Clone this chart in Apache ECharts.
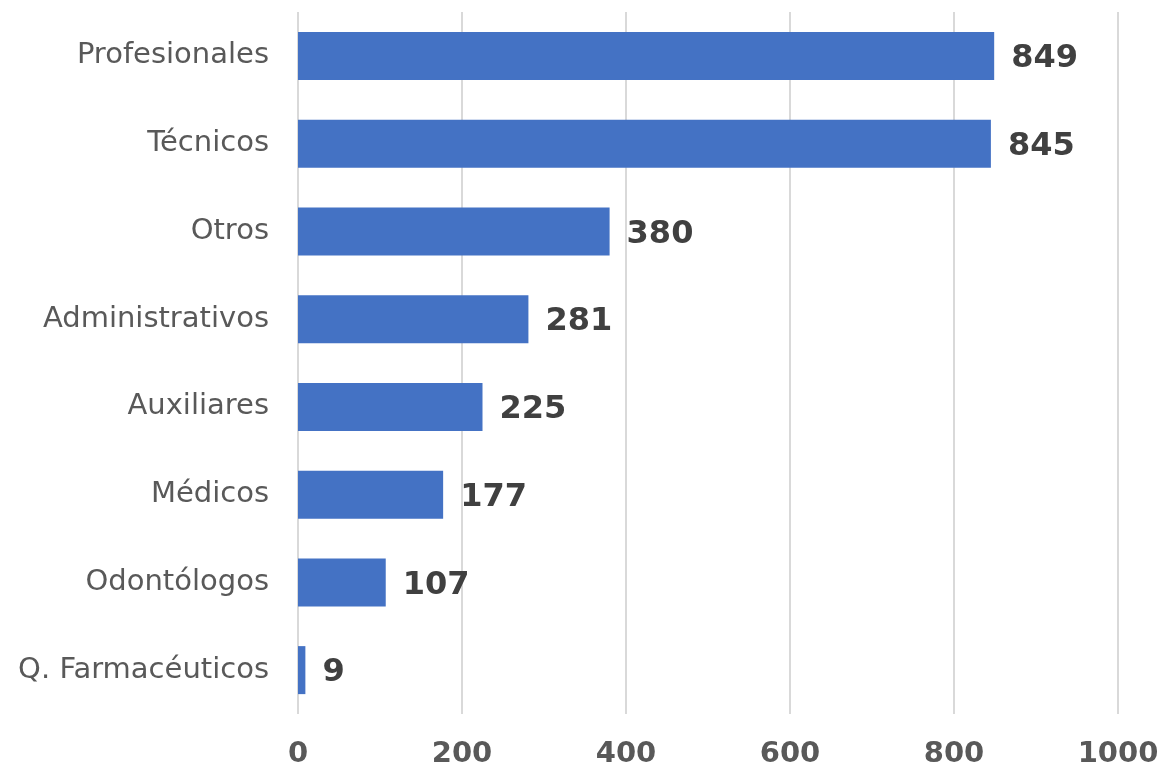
<!DOCTYPE html>
<html>
<head>
<meta charset="utf-8">
<script src="https://cdn.jsdelivr.net/npm/echarts@6/dist/echarts.min.js"></script>
<style>
html,body{margin:0;padding:0;background:#fff;}
#c{width:1163px;height:769px;}
</style>
</head>
<body>
<div id="c"></div>
<script>
const categories = ["Profesionales","Técnicos","Otros","Administrativos","Auxiliares","Médicos","Odontólogos","Q. Farmacéuticos"];
const values = [849,845,380,281,225,177,107,9];
const xTicks = [0,200,400,600,800,1000];

const chart = echarts.init(document.getElementById('c'));
chart.setOption({
  animation:false,
  grid:{left:298,right:45,top:12,bottom:54,containLabel:false},
  xAxis:{
    type:'value',min:xTicks[0],max:xTicks[xTicks.length-1],interval:200,
    axisLine:{show:false},axisTick:{show:false},
    splitLine:{lineStyle:{color:'#d9d9d9',width:2}},
    axisLabel:{color:'#595959',fontFamily:'DejaVu Sans',fontWeight:'bold',fontSize:29,margin:26,
      formatter:function(v){return String(v);}}
  },
  yAxis:{
    type:'category',data:categories,inverse:true,
    axisLine:{show:false},axisTick:{show:false},
    axisLabel:{color:'#595959',fontFamily:'DejaVu Sans',fontSize:29,margin:29,padding:[4,0,0,0]}
  },
  series:[{
    type:'bar',data:values,barWidth:48,
    itemStyle:{color:'#4472c4'},
    label:{show:true,position:'right',distance:17,offset:[0,3],color:'#404040',fontFamily:'DejaVu Sans',fontWeight:'bold',fontSize:32}
  }]
});
</script>
</body>
</html>
